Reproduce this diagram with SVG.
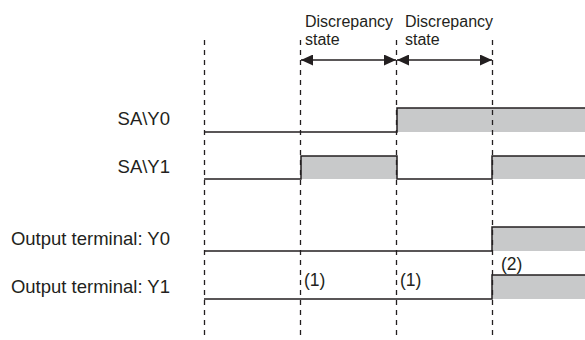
<svg xmlns="http://www.w3.org/2000/svg" width="585" height="340" viewBox="0 0 585 340">
<style>
.lbl{font-family:"Liberation Sans",Arial,sans-serif;font-size:18.5px;fill:#231f20}
.sm{font-family:"Liberation Sans",Arial,sans-serif;font-size:16px;fill:#231f20}
.num{font-family:"Liberation Sans",Arial,sans-serif;font-size:17.5px;fill:#231f20}
.sig{fill:none;stroke:#231f20;stroke-width:1.5}
.on{fill:#c8c9ca;stroke:none}
.grid{stroke:#231f20;stroke-width:1.3;stroke-dasharray:5 5}
.dim{stroke:#231f20;stroke-width:1.5;fill:none}
</style>
<defs>
<marker id="ah" viewBox="0 0 12 11" refX="12" refY="5.5" markerWidth="12" markerHeight="11" markerUnits="userSpaceOnUse" orient="auto-start-reverse">
<path d="M0,0 L12,5.5 L0,11 Z" fill="#231f20"/>
</marker>
</defs>
<rect width="585" height="340" fill="#fff"/>

<g id="sa-y0">
<rect class="on" x="397" y="108" width="188" height="24"/>
<path class="sig" d="M204,132 H397 V108 H585"/>
<text class="lbl" x="170" y="125" text-anchor="end">SA\Y0</text>
</g>

<g id="sa-y1">
<rect class="on" x="301" y="156" width="96" height="23"/>
<rect class="on" x="492" y="156" width="93" height="23"/>
<path class="sig" d="M204,179 H301 V156 H397 V179 H492 V156 H585"/>
<text class="lbl" x="170" y="173" text-anchor="end">SA\Y1</text>
</g>

<g id="out-y0">
<rect class="on" x="492" y="227" width="93" height="24"/>
<path class="sig" d="M204,251 H492 V227 H585"/>
<text class="lbl" x="170" y="245" text-anchor="end">Output terminal: Y0</text>
</g>

<g id="out-y1">
<rect class="on" x="492" y="275" width="93" height="24"/>
<path class="sig" d="M204,299 H492 V275 H585"/>
<text class="lbl" x="170" y="293" text-anchor="end">Output terminal: Y1</text>
</g>

<g id="gridlines">
<line class="grid" x1="204.5" y1="40" x2="204.5" y2="340"/>
<line class="grid" x1="300.5" y1="40" x2="300.5" y2="340"/>
<line class="grid" x1="396.5" y1="40" x2="396.5" y2="340"/>
<line class="grid" x1="492.5" y1="40" x2="492.5" y2="340"/>
</g>

<g id="connectors">
<line class="dim" x1="301" y1="60" x2="396" y2="60" marker-start="url(#ah)" marker-end="url(#ah)"/>
<line class="dim" x1="397" y1="60" x2="492" y2="60" marker-start="url(#ah)" marker-end="url(#ah)"/>
</g>

<g id="annotations">
<text class="sm" x="305" y="27">Discrepancy</text>
<text class="sm" x="305" y="45">state</text>
<text class="sm" x="405" y="27">Discrepancy</text>
<text class="sm" x="405" y="45">state</text>
<text class="num" x="304" y="286">(1)</text>
<text class="num" x="400" y="286">(1)</text>
<text class="num" x="501" y="270">(2)</text>
</g>
</svg>
